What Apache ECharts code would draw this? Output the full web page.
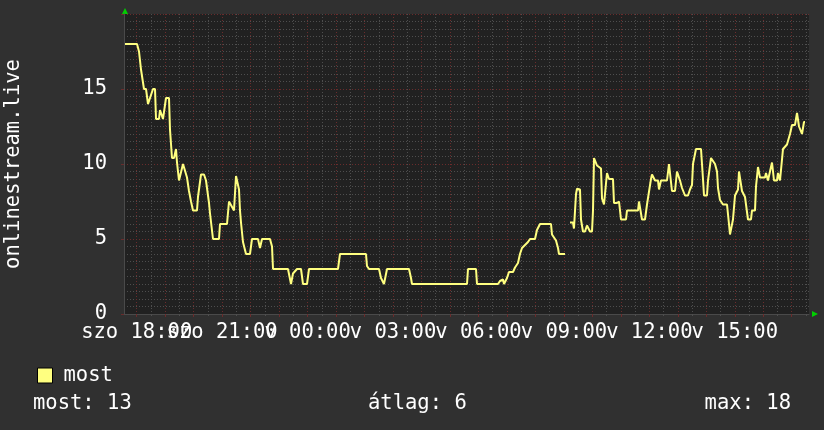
<!DOCTYPE html>
<html><head><meta charset="utf-8">
<script src="https://cdn.jsdelivr.net/npm/echarts@6/dist/echarts.min.js"></script>
<style>html,body{margin:0;padding:0;background:#303030;}#c{width:824px;height:430px;}</style>
</head><body><div id="c"></div>
<script>
// time in hours counted from szo 00:00 (24 = v 00:00)
const times = [
17.589,18.011,18.081,18.151,18.221,18.256,18.327,18.397,18.467,18.572,18.643,18.678,18.783,18.818,18.888,18.923,
19.029,19.134,19.169,19.239,19.310,19.380,19.415,19.485,19.555,19.626,19.696,19.766,19.836,19.907,19.977,
20.117,20.152,20.258,20.363,20.433,20.468,20.539,20.574,20.644,20.679,20.890,20.925,
21.171,21.241,21.311,21.416,21.487,21.557,21.592,21.627,21.662,21.732,21.838,21.978,
22.048,22.259,22.329,22.400,22.680,22.751,22.786,23.312,23.418,23.488,23.628,23.769,23.839,23.980,
24.050,25.068,25.138,26.051,26.086,26.157,26.508,26.578,26.683,26.753,26.789,27.561,27.631,27.666,
29.598,29.633,29.914,29.949,30.686,30.756,30.826,30.862,30.897,30.967,
31.002,31.072,31.213,31.283,31.353,31.388,31.458,31.529,31.739,31.810,31.985,
32.055,32.161,32.547,32.582,32.722,32.793,32.828,33.038,33.120,
33.214,33.319,33.354,33.425,33.460,33.565,33.600,33.670,33.741,33.811,33.846,33.916,33.987,
34.022,34.057,34.127,34.162,34.232,34.303,34.338,34.408,34.478,34.513,34.583,34.724,34.759,34.864,34.935,
35.005,35.180,35.215,35.602,35.637,35.707,35.742,35.847,35.918,35.953,
36.058,36.093,36.128,36.199,36.304,36.339,36.409,36.620,36.690,36.725,36.795,36.901,36.971,
37.041,37.076,37.147,37.252,37.357,37.427,37.498,37.533,37.638,37.814,37.849,37.884,37.919,
38.024,38.060,38.130,38.165,38.235,38.305,38.376,38.411,38.481,38.551,38.586,38.727,38.797,38.832,38.902,38.937,
39.008,39.078,39.113,39.148,39.218,39.253,39.359,39.464,39.569,39.604,39.710,39.745,39.815,39.885,
40.061,40.096,40.166,40.236,40.307,40.342,40.377,40.482,40.517,40.588,40.658,40.693,40.763,40.833,40.869,40.939,
41.009,41.114,41.185,41.220,41.255,41.325,41.360,41.430,41.465
];
const values = [
18,18,17.5,16.3,16.3,15,15,14,14,15,15,13,13,13.6,13.6,13,
14.4,14.4,12.3,10.4,10.4,11,10.1,8.9,8.9,10,10,9.1,8.2,7.5,6.9,
6.9,7.8,9.3,9.3,8.9,8.9,7.4,6.7,6.7,5,5,6,
6,7.5,7.5,6.9,9.2,9.2,8.3,6.9,6.1,4.8,4,4,
5,5,4.4,5,5,4.5,3,3,2,2.7,3,3,2,2,
3,3,4,4,3.2,3,3,2.4,2,2,3,3,2.4,2,
2,3,3,2,2,2.2,2.3,2.3,2,2,
2.4,2.8,2.8,3.1,3.1,3.4,4,4.4,4.8,5,5,
5.6,6,6,5.3,4.9,4.4,4,4,null,
6.1,6.1,5.7,8.0,8.35,8.3,6.3,5.5,5.5,5.9,5.9,5.5,5.5,
6.9,10.4,10.4,9.9,9.9,9.7,7.7,7.3,7.3,9.4,9.0,9.0,7.4,7.4,7.5,
6.3,6.3,6.9,6.9,7.5,7.5,6.3,6.3,7.3,7.3,
9.0,9.3,9.3,8.9,8.9,8.3,8.9,8.9,10,10,8.2,8.2,9.5,
9.5,8.9,8.4,7.9,7.9,8.3,8.6,10,11,11,10,9,7.9,
7.9,8.9,8.9,10.4,10.4,10,9.5,8.4,7.6,7.6,7.3,7.3,6,5.3,5.3,6.3,
7.9,7.9,8.3,9.5,9.5,8.2,7.8,6.3,6.3,6.9,6.9,8.5,9.8,9.1,
9.1,9.4,8.9,9.5,10.1,10.1,8.9,8.9,9.4,8.9,8.9,11,11,11.3,11.3,12,
12.6,12.6,13.4,13.4,12.5,12.5,12,12.8,12.8
];
const tickHours = [18, 21, 24, 27, 30, 33, 36, 39];
const tickLabels = ['szo 18:00', 'szo 21:00', 'v 00:00', 'v 03:00', 'v 06:00', 'v 09:00', 'v 12:00', 'v 15:00'];
const yTickLabels = [0, 5, 10, 15];
const seriesName = 'most';
const axisTitle = 'onlinestream.live';
const statLabels = ['most', 'átlag', 'max'];
const statValues = [13, 6, 18];
const xMin = 17.554, xMax = 41.606;
const yMin = 0, yMax = 20;

const majorHours = []; for (let h = 18; h <= 41; h++) majorHours.push(h);
const minorHours = []; for (let h = 17.5; h <= 41.5; h += 1) if (h > xMin && h < xMax) minorHours.push(h);
const evenTicks = tickHours.filter((h, i) => i % 2 === 0);
const oddTicks = tickHours.filter((h, i) => i % 2 === 1);

const FONT = 'DejaVu Sans Mono';
const FS = 20.5;
const RED = '#6a2c2c';
const GREY = '#4e4e4e';
const LINE = '#ffff80';

const labelFmt = v => { const i = tickHours.indexOf(Math.round(v)); return i >= 0 ? tickLabels[i] : ''; };
const labelAxis = (vals) => ({
  type: 'value', min: xMin, max: xMax, position: 'bottom',
  axisLine: {show: false}, axisTick: {show: false}, splitLine: {show: false},
  axisLabel: {customValues: vals, color: '#fff', fontFamily: FONT, fontSize: FS, margin: 8,
              hideOverlap: false, showMinLabel: true, showMaxLabel: true, formatter: labelFmt}
});

const chart = echarts.init(document.getElementById('c'), null, {renderer: 'canvas'});
const data = times.map((t, i) => [t, values[i] === null ? '-' : values[i]]);

chart.setOption({
  animation: false,
  backgroundColor: '#303030',
  grid: {left: 124, right: 15, top: 14, bottom: 116, show: true, backgroundColor: '#212121', borderWidth: 0,
         containLabel: false, outerBoundsMode: 'none'},
  legend: {
    data: [seriesName], left: 32, top: 360, icon: 'rect', itemWidth: 15, itemHeight: 15,
    itemStyle: {borderColor: '#000', borderWidth: 1},
    textStyle: {color: '#fff', fontFamily: FONT, fontSize: FS, padding: [0, 0, 0, 6]}
  },
  xAxis: [{
    type: 'value', min: xMin, max: xMax, position: 'bottom',
    axisLine: {show: true, onZero: false, lineStyle: {color: '#4a4a4a', width: 1}},
    axisTick: {show: true, customValues: majorHours, length: 3, lineStyle: {color: RED}},
    axisLabel: {show: false},
    splitLine: {show: true, lineStyle: {color: RED, type: [1, 2], width: 1}}
  }, {
    type: 'value', min: xMin, max: xMax, position: 'bottom',
    axisLine: {show: false},
    axisTick: {show: true, customValues: minorHours, length: 2, lineStyle: {color: GREY}},
    axisLabel: {show: false},
    splitLine: {show: true, lineStyle: {color: GREY, type: [1, 2], width: 1}}
  }, labelAxis(evenTicks), labelAxis(oddTicks)],
  yAxis: {
    type: 'value', min: yMin, max: yMax, interval: 5,
    axisLine: {show: true, lineStyle: {color: '#4a4a4a'}},
    axisTick: {show: true, length: 3, lineStyle: {color: RED}},
    axisLabel: {customValues: yTickLabels, color: '#fff', fontFamily: FONT, fontSize: FS, margin: 17,
                showMinLabel: true, showMaxLabel: true},
    splitLine: {show: true, lineStyle: {color: RED, type: [1, 2], width: 1}},
    minorTick: {show: false, splitNumber: 10},
    minorSplitLine: {show: true, lineStyle: {color: GREY, type: [1, 2], width: 1}},
    name: axisTitle, nameLocation: 'middle', nameGap: 100, nameRotate: 90,
    nameTextStyle: {color: '#fff', fontFamily: FONT, fontSize: FS}
  },
  series: [{
    name: seriesName, type: 'line', xAxisIndex: 0, data: data,
    showSymbol: false, connectNulls: false,
    lineStyle: {color: LINE, width: 2}, itemStyle: {color: LINE},
    z: 10
  }],
  graphic: [
    {type: 'polygon', shape: {points: [[122, 14], [128, 14], [125, 8]]}, style: {fill: '#00d000'}},
    {type: 'polygon', shape: {points: [[812, 311], [812, 317], [818, 314]]}, style: {fill: '#00d000'}},
    {type: 'text', left: 33, top: 393, style: {text: statLabels[0] + ': ' + statValues[0], fill: '#fff', font: FS + 'px "' + FONT + '"'}},
    {type: 'text', left: 368, top: 393, style: {text: statLabels[1] + ': ' + statValues[1], fill: '#fff', font: FS + 'px "' + FONT + '"'}},
    {type: 'text', right: 33, top: 393, style: {text: statLabels[2] + ': ' + statValues[2], fill: '#fff', font: FS + 'px "' + FONT + '"'}}
  ]
});
</script></body></html>
